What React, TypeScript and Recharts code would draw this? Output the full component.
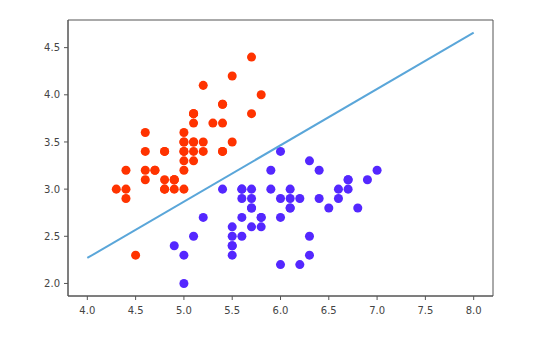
import React from "react";
import { ScatterChart, Scatter, XAxis, YAxis, ZAxis, ReferenceArea } from "recharts";

// Iris: sepal length (x) vs sepal width (y)
const setosaX = [5.1,4.9,4.7,4.6,5.0,5.4,4.6,5.0,4.4,4.9,5.4,4.8,4.8,4.3,5.8,5.7,5.4,5.1,5.7,5.1,5.4,5.1,4.6,5.1,4.8,5.0,5.0,5.2,5.2,4.7,4.8,5.4,5.2,5.5,4.9,5.0,5.5,4.9,4.4,5.1,5.0,4.5,4.4,5.0,5.1,4.8,5.1,4.6,5.3,5.0];
const setosaY = [3.5,3.0,3.2,3.1,3.6,3.9,3.4,3.4,2.9,3.1,3.7,3.4,3.0,3.0,4.0,4.4,3.9,3.5,3.8,3.8,3.4,3.7,3.6,3.3,3.4,3.0,3.4,3.5,3.4,3.2,3.1,3.4,4.1,4.2,3.1,3.2,3.5,3.1,3.0,3.4,3.5,2.3,3.2,3.5,3.8,3.0,3.8,3.2,3.7,3.3];
const versicolorX = [7.0,6.4,6.9,5.5,6.5,5.7,6.3,4.9,6.6,5.2,5.0,5.9,6.0,6.1,5.6,6.7,5.6,5.8,6.2,5.6,5.9,6.1,6.3,6.1,6.4,6.6,6.8,6.7,6.0,5.7,5.5,5.5,5.8,6.0,5.4,6.0,6.7,6.3,5.6,5.5,5.5,6.1,5.8,5.0,5.6,5.7,5.7,6.2,5.1,5.7];
const versicolorY = [3.2,3.2,3.1,2.3,2.8,2.8,3.3,2.4,2.9,2.7,2.0,3.0,2.2,2.9,2.9,3.1,3.0,2.7,2.2,2.5,3.2,2.8,2.5,2.8,2.9,3.0,2.8,3.0,2.9,2.6,2.4,2.4,2.7,2.7,3.0,3.4,3.1,2.3,3.0,2.5,2.6,3.0,2.6,2.3,2.7,3.0,2.9,2.9,2.5,2.8];
const boundaryX = [4.0, 8.0];
const boundaryY = [2.27, 4.66];
const xTicks = [4.0, 4.5, 5.0, 5.5, 6.0, 6.5, 7.0, 7.5, 8.0];
const yTicks = [2.0, 2.5, 3.0, 3.5, 4.0, 4.5];

const xDomain: [number, number] = [3.8, 8.2];
const yDomain: [number, number] = [1.867, 4.793];

const setosa = setosaX.map((x, i) => ({ x, y: setosaY[i] }));
const versicolor = versicolorX.map((x, i) => ({ x, y: versicolorY[i] }));
const boundary = boundaryX.map((x, i) => ({ x, y: boundaryY[i] }));

const tickStyle = { fontFamily: "DejaVu Sans", fontSize: 10, fill: "#444" };

export default function App() {
  return (
    <ScatterChart
      width={547}
      height={339}
      margin={{ top: 12, right: 62, bottom: 21, left: 20 }}
    >
      <XAxis
        type="number"
        dataKey="x"
        domain={xDomain}
        ticks={xTicks}
        allowDataOverflow
        height={30}
        tickSize={4}
        tickMargin={7}
        tick={tickStyle}
        axisLine={{ stroke: "#555" }}
        tickLine={{ stroke: "#555" }}
        tickFormatter={(v: number) => v.toFixed(1)}
      />
      <YAxis
        type="number"
        dataKey="y"
        domain={yDomain}
        ticks={yTicks}
        allowDataOverflow
        width={40}
        tickSize={4}
        tickMargin={4}
        tick={tickStyle}
        axisLine={{ stroke: "#555" }}
        tickLine={{ stroke: "#555" }}
        tickFormatter={(v: number) => v.toFixed(1)}
      />
      <ZAxis range={[79, 79]} />
      <ReferenceArea
        x1={xDomain[0]}
        x2={xDomain[1]}
        y1={yDomain[0]}
        y2={yDomain[1]}
        fill="none"
        fillOpacity={0}
        stroke="#555"
        strokeWidth={1}
        ifOverflow="visible"
      />
      <Scatter data={setosa} fill="#ff3300" isAnimationActive={false} />
      <Scatter data={versicolor} fill="#5427ff" isAnimationActive={false} />
      <Scatter
        data={boundary}
        line={{ stroke: "#5aa6d9", strokeWidth: 2 }}
        shape={() => <g />}
        isAnimationActive={false}
      />
    </ScatterChart>
  );
}
